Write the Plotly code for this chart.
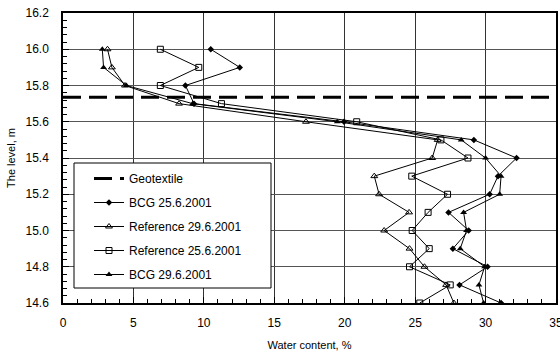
import plotly.graph_objects as go

levels = [16.0, 15.9, 15.8, 15.7, 15.6, 15.5, 15.4, 15.3, 15.2, 15.1, 15.0, 14.9, 14.8, 14.7, 14.6]
bcg_25_6 = [10.49, 12.55, 8.69, 9.3, 19.95, 29.17, 32.2, 30.88, 30.29, 27.37, 28.8, 27.68, 30.14, 28.15, 31.1]
ref_29_6 = [3.16, 3.47, 4.4, 8.24, 17.25, 26.6, 26.21, 22.1, 22.44, 24.57, 22.8, 24.6, 25.66, 27.2, 27.75]
ref_25_6 = [6.91, 9.64, 6.91, 11.25, 20.85, 26.83, 28.75, 24.76, 27.3, 25.92, 24.79, 26.0, 24.6, 27.49, 25.33]
bcg_29_6 = [2.79, 2.88, 4.5, 9.2, 19.47, 28.27, 30.0, 31.1, 31.0, 28.44, 28.65, 28.2, 29.93, 29.53, 29.86]
geotextile_x = [0, 35]
geotextile_level = [15.735, 15.735]

FONT = "Liberation Sans, Arial, sans-serif"

fig = go.Figure()
fig.add_trace(go.Scatter(x=geotextile_x, y=geotextile_level, mode="lines", name="Geotextile",
                         line=dict(color="black", width=3, dash="18px,8px"), legendgroup="g0"))
fig.add_trace(go.Scatter(x=bcg_25_6, y=levels, mode="lines+markers", name="BCG 25.6.2001",
                         line=dict(color="black", width=1),
                         marker=dict(symbol="diamond", size=5, color="black"), legendgroup="g1"))
fig.add_trace(go.Scatter(x=ref_29_6, y=levels, mode="lines+markers", name="Reference 29.6.2001",
                         line=dict(color="black", width=1),
                         marker=dict(symbol="triangle-up-open", size=6, color="black", line=dict(width=1)), legendgroup="g2"))
fig.add_trace(go.Scatter(x=ref_25_6, y=levels, mode="lines+markers", name="Reference 25.6.2001",
                         line=dict(color="black", width=1),
                         marker=dict(symbol="square-open", size=6, color="black", line=dict(width=1)), legendgroup="g3"))
fig.add_trace(go.Scatter(x=bcg_29_6, y=levels, mode="lines+markers", name="BCG 29.6.2001",
                         line=dict(color="black", width=1),
                         marker=dict(symbol="triangle-up", size=6, color="black"), legendgroup="g4"))

L, R, T, B = 63, 4, 13, 55
pw = 560 - L - R
ph = 358 - T - B

def px_x(p):
    return (p - L) / pw

def px_y(p):
    return 1 - (p - T) / ph

fig.update_layout(
    width=560, height=358,
    margin=dict(l=L, r=R, t=T, b=B, autoexpand=False),
    paper_bgcolor="white", plot_bgcolor="white",
    font=dict(family=FONT, size=12, color="black"),
    showlegend=True,
    legend=dict(x=px_x(75), y=px_y(164), xanchor="left", yanchor="top",
                bgcolor="rgba(0,0,0,0)", borderwidth=0,
                font=dict(size=12, family=FONT), traceorder="grouped", tracegroupgap=5,
                itemwidth=30, indentation=14),
    shapes=[dict(type="rect", xref="paper", yref="paper",
                 x0=px_x(74), x1=px_x(271), y0=px_y(288), y1=px_y(163),
                 line=dict(color="black", width=1), fillcolor="white", layer="above")],
)

fig.update_xaxes(range=[0, 35], dtick=5, tick0=0, showgrid=True, gridcolor="#333333", gridwidth=1,
                 showline=True, linecolor="black", linewidth=1.5, mirror=True,
                 ticks="inside", ticklen=6, tickcolor="black",
                 minor=dict(dtick=1, ticks="inside", ticklen=4, tickcolor="black", showgrid=False),
                 tickfont=dict(size=12), ticklabelstandoff=8, ticklabeloverflow="allow",
                 automargin=False,
                 title=dict(text="Water content, %", font=dict(size=11), standoff=12),
                 zeroline=False)
fig.update_yaxes(range=[14.6, 16.2], dtick=0.2, tick0=14.6, tickformat=".1f", showgrid=True,
                 gridcolor="#555555", gridwidth=1,
                 showline=True, linecolor="black", linewidth=1.5, mirror=True,
                 ticks="inside", ticklen=6, tickcolor="black",
                 minor=dict(dtick=0.04, ticks="inside", ticklen=4, tickcolor="black", showgrid=False),
                 tickfont=dict(size=12), ticklabelstandoff=10, automargin=False,
                 title=dict(text="The level, m", font=dict(size=11), standoff=8),
                 zeroline=False)

fig.write_html("out.html")
